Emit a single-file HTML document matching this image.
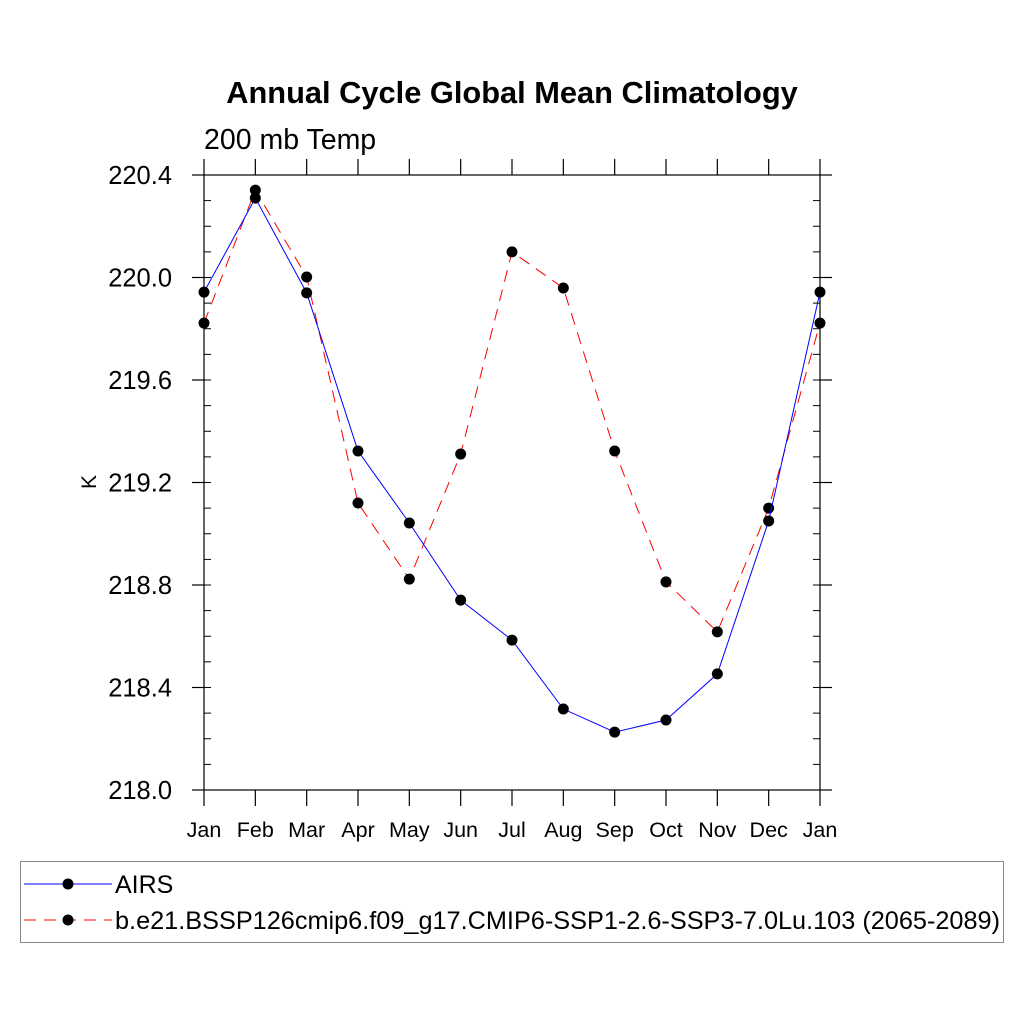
<!DOCTYPE html>
<html><head><meta charset="utf-8"><style>
body{margin:0;background:#fff}
svg{display:block;font-family:"Liberation Sans",sans-serif}
</style></head><body>
<svg id="chart" width="1024" height="1024" viewBox="0 0 1024 1024">
<rect width="1024" height="1024" fill="#fff"/>
<text x="512" y="103" text-anchor="middle" font-size="30.8" font-weight="bold">Annual Cycle Global Mean Climatology</text>
<text x="204" y="149" font-size="28.5">200 mb Temp</text>
<text x="0" y="0" font-size="21" transform="translate(96,482) rotate(-90)" text-anchor="middle">K</text>
<g id="axes"></g>
<g id="series"></g>
<g id="legend">
<rect x="20.5" y="861.5" width="983" height="81" fill="none" stroke="#888" stroke-width="1"/>
<g>
<line x1="24" y1="884" x2="112" y2="884" stroke="#00f" stroke-width="1"/>
<circle cx="68" cy="884" r="5.5" fill="#000"/>
<text x="115" y="893" font-size="25">AIRS</text>
</g>
<g>
<line x1="24" y1="920" x2="112" y2="920" stroke="#f00" stroke-width="1" stroke-dasharray="12,8"/>
<circle cx="68" cy="920" r="5.5" fill="#000"/>
<text x="115" y="929" font-size="25" textLength="885" lengthAdjust="spacingAndGlyphs">b.e21.BSSP126cmip6.f09_g17.CMIP6-SSP1-2.6-SSP3-7.0Lu.103 (2065-2089)</text>
</g>
</g>
</svg>
<script>
const months = ["Jan","Feb","Mar","Apr","May","Jun","Jul","Aug","Sep","Oct","Nov","Dec","Jan"];
const airs = [219.943,220.31,219.94,219.323,219.042,218.741,218.585,218.316,218.226,218.273,218.453,219.05,219.943];
const model = [219.822,220.341,220.002,219.12,218.823,219.311,220.10,219.959,219.323,218.812,218.617,219.10,219.822];
const yTicks = [218.0,218.4,218.8,219.2,219.6,220.0,220.4];
const yTickLabels = ["218.0","218.4","218.8","219.2","219.6","220.0","220.4"];

const NS="http://www.w3.org/2000/svg";
const L=204,R=820,T=175,B=790,YMIN=218.0,YMAX=220.4;
const xs=i=>L+(R-L)*i/(months.length-1);
const ys=v=>B-(B-T)*(v-YMIN)/(YMAX-YMIN);
function mk(tag,attrs,parent){const e=document.createElementNS(NS,tag);for(const k in attrs)e.setAttribute(k,attrs[k]);parent.appendChild(e);return e;}
const ax=document.getElementById('axes');
const f=mk('rect',{x:L,y:T,width:R-L,height:B-T,fill:'none',stroke:'#000','stroke-width':1.2},ax);


for(let v=YMIN;v<=YMAX+1e-9;v+=0.1){
  const y=ys(v);
  mk('line',{x1:L,y1:y,x2:L+7,y2:y,stroke:'#000','stroke-width':1},ax);
  mk('line',{x1:R,y1:y,x2:R-7,y2:y,stroke:'#000','stroke-width':1},ax);
}
yTicks.forEach((v,i)=>{
  const y=ys(v);
  mk('line',{x1:L-12,y1:y,x2:L,y2:y,stroke:'#000','stroke-width':1.2},ax);
  mk('line',{x1:R,y1:y,x2:R+12,y2:y,stroke:'#000','stroke-width':1.2},ax);
  const t=mk('text',{x:172,y:y+9,'text-anchor':'end','font-size':25.5},ax);
  t.textContent=yTickLabels[i];
  
  
});
months.forEach((m,i)=>{
  const x=xs(i);
  mk('line',{x1:x,y1:B,x2:x,y2:B+16,stroke:'#000','stroke-width':1.2},ax);
  mk('line',{x1:x,y1:T,x2:x,y2:T-16,stroke:'#000','stroke-width':1.2},ax);
  const t=mk('text',{x:x,y:837,'text-anchor':'middle','font-size':21.5},ax);
  t.textContent=m;
  
  
});
const sg=document.getElementById('series');
function series(vals,color,dash,name){
  const g=mk('g',{},sg);
  
  
  mk('polyline',{points:vals.map((v,i)=>xs(i)+','+ys(v)).join(' '),fill:'none',stroke:color,'stroke-width':1,'stroke-dasharray':dash},g);
  vals.forEach((v,i)=>{
    const c=mk('circle',{cx:xs(i),cy:ys(v),r:5.5,fill:'#000'},g);
    
    
  });
}
series(model,'#f00','12,8','model-series');
series(airs,'#00f','none','airs-series');
</script>
</body></html>
